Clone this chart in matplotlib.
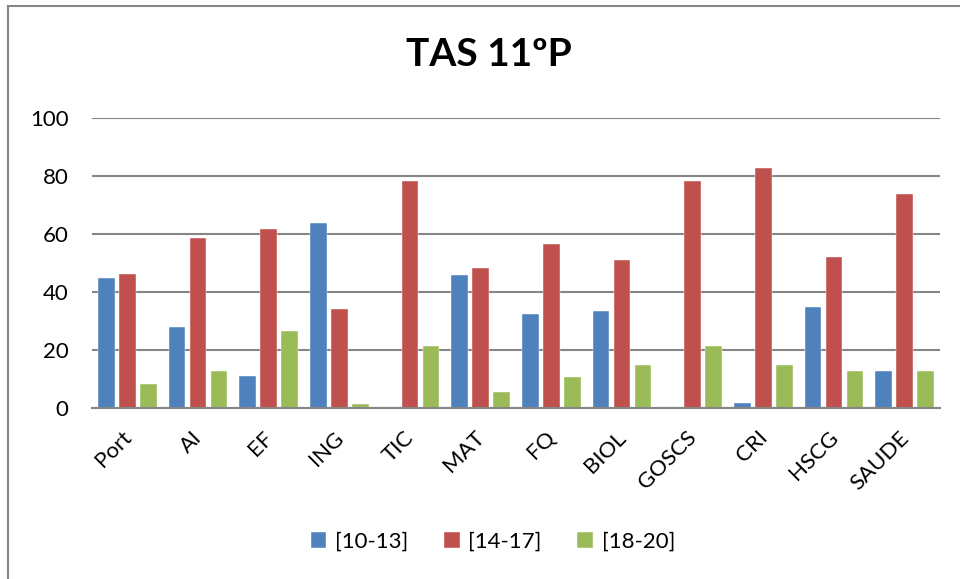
import numpy as np
import matplotlib
matplotlib.use('Agg')
import matplotlib.pyplot as plt
from matplotlib.patches import Rectangle
from matplotlib.transforms import ScaledTranslation

plt.rcParams['font.family'] = ['Lato', 'DejaVu Sans']

# values (percent of students per grade band)
subjects = ['Port', 'AI', 'EF', 'ING', 'TIC', 'MAT', 'FQ', 'BIOL', 'GOSCS', 'CRI', 'HSCG', 'SAUDE']
band_10_13 = [44.8, 28.1, 11.1, 63.9, 0, 45.9, 32.5, 33.5, 0, 1.8, 34.7, 12.9]
band_14_17 = [46.3, 58.6, 61.6, 34.2, 78.2, 48.2, 56.5, 50.9, 78.2, 82.6, 52.1, 73.8]
band_18_20 = [8.4, 12.9, 26.7, 1.4, 21.5, 5.5, 10.7, 15.0, 21.5, 15.0, 12.9, 12.9]
band_labels = ['[10-13]', '[14-17]', '[18-20]']
yticks = [0, 20, 40, 60, 80, 100]

colors = ['#4F81BD', '#C0504D', '#9BBB59']

fig = plt.figure(figsize=(9.6, 5.79), dpi=100)
ax = fig.add_axes([92/960, 1-408/579, (940-92)/960, (408-118)/579])

x = np.arange(len(subjects))
w = 0.24
offs = [-0.297, 0, 0.297]
for vals, off, c, lab in zip([band_10_13, band_14_17, band_18_20], offs, colors, band_labels):
    ax.bar(x + off, vals, width=w, color=c, edgecolor='white', linewidth=0.3, label=lab, zorder=3)

ax.set_xlim(-0.5, len(subjects) - 0.5)
ax.set_ylim(0, 100)
ax.set_yticks(yticks)
ax.yaxis.grid(True, color='#868686', linewidth=1.5, zorder=0)
ax.set_axisbelow(True)
for s in ['top', 'right', 'left']:
    ax.spines[s].set_visible(False)
ax.spines['bottom'].set_color('#868686')
ax.spines['bottom'].set_linewidth(1.5)
ax.spines['bottom'].set_zorder(4)
ax.tick_params(axis='y', length=0, pad=17, labelsize=16)
ax.tick_params(axis='x', length=0, pad=14, labelsize=16)
ax.set_xticks(x)
ax.set_xticklabels(subjects, rotation=45, ha='right', rotation_mode='anchor')
shift = ScaledTranslation(-6/100, 0, fig.dpi_scale_trans)
for lbl in ax.get_xticklabels():
    lbl.set_transform(lbl.get_transform() + shift)

fig.text(489/960, 1-54/579, 'TAS 11ºP', ha='center', va='center', fontsize=28, fontweight='bold')

fig.legend(loc='center', bbox_to_anchor=(493/960, 1-542/579), ncol=3, frameon=False,
           fontsize=16, handlelength=0.7, handleheight=0.7, handletextpad=0.4, columnspacing=1.6)

fig.patches.append(Rectangle((8/960, -0.1), 1.2, 1.1 - 6/579, transform=fig.transFigure,
                             fill=False, edgecolor='#868686', linewidth=1.5))

fig.savefig('out.png', dpi=100, facecolor='white')
